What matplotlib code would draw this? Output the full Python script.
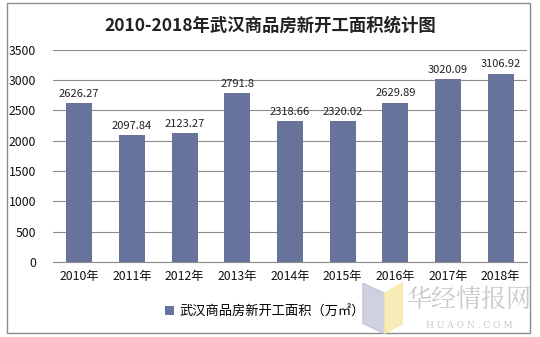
import matplotlib
matplotlib.use("Agg")
import matplotlib.pyplot as plt
from matplotlib.patches import Rectangle, Polygon

plt.rcParams['font.family'] = ['Noto Sans CJK SC', 'DejaVu Sans']

years = ["2010年", "2011年", "2012年", "2013年", "2014年", "2015年", "2016年", "2017年", "2018年"]
area = [2626.27, 2097.84, 2123.27, 2791.8, 2318.66, 2320.02, 2629.89, 3020.09, 3106.92]
labels = ["2626.27", "2097.84", "2123.27", "2791.8", "2318.66", "2320.02", "2629.89", "3020.09", "3106.92"]
series_name = "武汉商品房新开工面积（万㎡）"
title = "2010-2018年武汉商品房新开工面积统计图"

BAR_COLOR = "#67739b"

fig = plt.figure(figsize=(5.4, 3.37), dpi=100)
fig.patches.append(Rectangle((0.013, 0.012), 0.968, 0.978, transform=fig.transFigure,
                             fill=False, edgecolor="#8c8c8c", linewidth=1))

ax = fig.add_axes([0.098, 0.223, 0.878, 0.629])
x = list(range(len(years)))
bars = ax.bar(x, area, width=0.49, color=BAR_COLOR, label=series_name, zorder=3)

for xi, v, t in zip(x, area, labels):
    ax.text(xi, v + 70, t, ha="center", va="bottom", fontsize=8, color="#222222")

ax.set_ylim(0, 3500)
ax.set_yticks(range(0, 3501, 500))
ax.set_xlim(-0.5, len(years) - 0.5)
ax.set_xticks(x)
ax.set_xticklabels(years)
ax.yaxis.grid(True, color="#8c8c8c", linewidth=0.8, zorder=0)
ax.tick_params(axis="both", length=0, labelsize=8.8, colors="#111111")
ax.tick_params(axis="y", pad=12)
ax.tick_params(axis="x", pad=6)
for s in ["top", "right", "left"]:
    ax.spines[s].set_visible(False)
ax.spines["bottom"].set_color("#8c8c8c")

fig.text(0.5, 0.925, title, ha="center", va="center", fontsize=12.5, fontweight="bold", color="#222222")

fig.legend(handles=[bars], labels=[series_name], loc="center", bbox_to_anchor=(0.49, 0.075),
           frameon=False, fontsize=9.5, handlelength=0.7, handleheight=0.7, handletextpad=0.4)

# watermark
fig.patches.append(Polygon([[0.672, 0.16], [0.712, 0.13], [0.712, 0.01], [0.672, 0.04]],
                           closed=True, transform=fig.transFigure, color="#b8bed4", alpha=0.7))
fig.patches.append(Polygon([[0.712, 0.13], [0.745, 0.16], [0.745, 0.04], [0.712, 0.01]],
                           closed=True, transform=fig.transFigure, color="#f6e6a6", alpha=0.8))
fig.text(0.87, 0.11, "华经情报网", ha="center", va="center", fontsize=18, color="#c8c8c8",
         family=["Noto Serif CJK SC", "Noto Sans CJK SC"])
fig.text(0.87, 0.035, "H U A O N . C O M", ha="center", va="center", fontsize=6.5, color="#c8c8c8",
         family="DejaVu Serif")

fig.savefig("out.png", dpi=100)
